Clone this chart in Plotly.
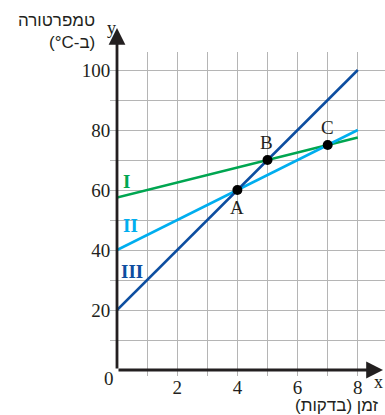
import plotly.graph_objects as go

# ---- data ----
x_ends = [0, 8]
line_I = [57.5, 77.5]
line_II = [40, 80]
line_III = [20, 100]
line_names = ["I", "II", "III"]
line_colors = ["#00a651", "#00aeef", "#0d4ea0"]

point_labels = ["A", "B", "C"]
point_x = [4, 5, 7]
point_y = [60, 70, 75]

x_ticks = [1, 2, 3, 4, 5, 6, 7, 8]
x_ticktext = ["", "2", "", "4", "", "6", "", "8"]
y_ticks = [10, 20, 30, 40, 50, 60, 70, 80, 90, 100]
y_ticktext = ["", "20", "", "40", "", "60", "", "80", "", "100"]

serif = "Liberation Serif, Times New Roman, serif"
sans = "Liberation Sans, DejaVu Sans, Arial, sans-serif"
axis_color = "#231f20"
grid_color = "#b5b5b5"
text_color = "#231f20"

W, H = 385, 415
L, R, T = 117, 0, 52
B = H - 370
pw, ph = W - L - R, H - T - B

fig = go.Figure()

for ys, name, col in zip([line_I, line_II, line_III], line_names, line_colors):
    fig.add_trace(go.Scatter(x=x_ends, y=ys, mode="lines", name=name,
                             line=dict(color=col, width=2.6), showlegend=False,
                             hoverinfo="skip"))

fig.add_trace(go.Scatter(x=point_x, y=point_y, mode="markers",
                         marker=dict(color="black", size=10), showlegend=False,
                         hoverinfo="skip"))

annotations = []
# roman numeral labels
roman_pos = [(0.33, 62.7), (0.45, 48.3), (0.5, 32.7)]
for (lx, ly), name, col in zip(roman_pos, line_names, line_colors):
    annotations.append(dict(x=lx, y=ly, xref="x", yref="y", text=f"<b>{name}</b>",
                            showarrow=False, font=dict(family=serif, size=19, color=col)))
# point labels
label_pos = [(3.99, 54.3), (4.98, 75.7), (6.98, 81.0)]
for (lx, ly), t in zip(label_pos, point_labels):
    annotations.append(dict(x=lx, y=ly, xref="x", yref="y", text=t, showarrow=False,
                            font=dict(family=serif, size=19, color=text_color)))


# texts positioned in window pixels
def px_ann(xp, yp, text, family, size, xanchor="center"):
    return dict(x=(xp - L) / pw, y=(H - B - yp) / ph, xref="paper", yref="paper",
                text=text, showarrow=False, xanchor=xanchor, yanchor="middle",
                font=dict(family=family, size=size, color=text_color))


annotations.append(px_ann(109, 378, "0", serif, 19))
annotations.append(px_ann(111, 28, "y", serif, 18))
annotations.append(px_ann(378, 382, "x", serif, 18))
annotations.append(px_ann(97, 20, "טמפרטורה", sans, 17, "right"))
annotations.append(px_ann(97, 42, "(°C-ב)", sans, 17, "right"))
annotations.append(px_ann(381, 405, "זמן (בדקות)", sans, 17, "right"))

# axis arrows (drawn last so they sit on top)
annotations.append(dict(x=0, y=(H - B - 28) / ph, xref="x", yref="paper", ax=0, ay=342,
                        axref="pixel", ayref="pixel", text="", showarrow=True,
                        arrowhead=2, arrowsize=1.2, arrowwidth=2.8, arrowcolor=axis_color))
annotations.append(dict(x=(383 - L) / pw, y=0, xref="paper", yref="y", ax=-(383 - 117), ay=0,
                        text="", showarrow=True,
                        arrowhead=2, arrowsize=1.2, arrowwidth=2.8, arrowcolor=axis_color))

fig.update_layout(
    width=W, height=H,
    margin=dict(l=L, r=R, t=T, b=B),
    paper_bgcolor="white", plot_bgcolor="white",
    annotations=annotations,
    xaxis=dict(range=[0, pw / 30.1], tickmode="array", tickvals=x_ticks, ticktext=x_ticktext,
               showgrid=True, gridcolor=grid_color, gridwidth=1, zeroline=False, showline=False,
               ticks="outside", ticklen=5, tickcolor=grid_color, tickwidth=1,
               ticklabelstandoff=-5,
               tickfont=dict(family=serif, size=19, color=text_color)),
    yaxis=dict(range=[0, 106], tickmode="array", tickvals=y_ticks, ticktext=y_ticktext,
               showgrid=True, gridcolor=grid_color, gridwidth=1, zeroline=False, showline=False,
               ticks="outside", ticklen=6, tickcolor=grid_color, tickwidth=1,
               ticklabelstandoff=-4,
               tickfont=dict(family=serif, size=19, color=text_color)),
)

fig.write_html("out.html",
               config={"displayModeBar": False},
               post_script="document.body.style.margin='0';document.body.style.overflow='hidden';"
                           "document.documentElement.style.overflow='hidden';")
